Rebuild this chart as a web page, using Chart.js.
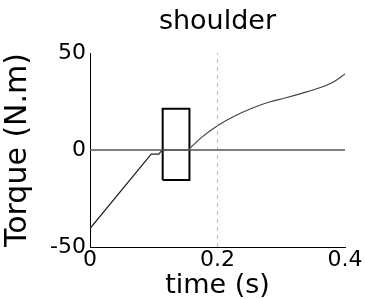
<!DOCTYPE html>
<html><head><meta charset="utf-8">
<script src="https://cdn.jsdelivr.net/npm/chart.js@4"></script>
<style>html,body{margin:0;padding:0;background:#fff}#wrap{width:365px;height:299px}</style>
</head><body><div id="wrap"><canvas id="c" width="365" height="299"></canvas></div>
<script>
// Torque curve, ramp part
const rampTime   = [0, 0.096, 0.108, 0.113, 0.154];
const rampTorque = [-40.5, -2.1, -2.1, 0, 0];
// Torque curve, smooth rise part
const riseTime   = [0.154, 0.175, 0.2, 0.227, 0.254, 0.28, 0.306, 0.332, 0.358, 0.382, 0.4];
const riseTorque = [0, 6.5, 12.5, 17.5, 21.5, 24.6, 26.8, 29.2, 31.8, 35.1, 39.2];
// Zero reference line
const zeroTime = [0, 0.4];
const zeroTorque = [0, 0];
// Dashed vertical marker
const markerTime = [0.2, 0.2];
const markerTorque = [-50, 50];
// Rectangle outline
const boxTime = [0.114, 0.114, 0.156, 0.156, 0.114];
const boxTorque = [-15.5, 21.3, 21.3, -15.5, -15.5];
// Ticks
const xTicks = [0, 0.2, 0.4];
const xTickLabels = ['0', '0.2', '0.4'];
const yTicks = [-50, 0, 50];
const yTickLabels = ['-50', '0', '50'];

const toPts = (xs, ys) => xs.map((x, i) => ({x: x, y: ys[i]}));
Chart.defaults.font.family = 'DejaVu Sans';
Chart.defaults.color = '#000';

new Chart(document.getElementById('c'), {
  type: 'scatter',
  data: {
    datasets: [
      {data: toPts(zeroTime, zeroTorque), showLine: true, borderColor: '#555', borderWidth: 1.5, pointRadius: 0, tension: 0},
      {data: toPts(markerTime, markerTorque), showLine: true, borderColor: '#bbb', borderWidth: 1, borderDash: [4, 4], pointRadius: 0, tension: 0},
      {data: toPts(rampTime, rampTorque), showLine: true, borderColor: '#222', borderWidth: 1.2, pointRadius: 0, tension: 0},
      {data: toPts(riseTime, riseTorque), showLine: true, borderColor: '#444', borderWidth: 1.2, pointRadius: 0, cubicInterpolationMode: 'monotone'},
      {data: toPts(boxTime, boxTorque), showLine: true, borderColor: '#000', borderWidth: 2, pointRadius: 0, tension: 0}
    ]
  },
  options: {
    responsive: false,
    animation: false,
    events: [],
    layout: {padding: {top: 0, left: 0, right: 20, bottom: 0}},
    plugins: {
      legend: {display: false},
      tooltip: {enabled: false},
      title: {display: true, text: 'shoulder', fullSize: false, color: '#000',
        font: {size: 27, weight: 'normal', lineHeight: 1.2}, padding: {top: 6, bottom: 14.6}}
    },
    scales: {
      x: {
        type: 'linear', min: 0, max: 0.4,
        grid: {display: false, drawTicks: false},
        border: {display: true, color: '#000', width: 1},
        afterBuildTicks: s => { s.ticks = xTicks.map(v => ({value: v})); },
        afterFit: s => { s.height = 52; },
        ticks: {autoSkip: false, maxRotation: 0, padding: 0, font: {size: 22},
          callback: v => xTickLabels[xTicks.indexOf(v)]},
        title: {display: true, text: 'time (s)', font: {size: 27, lineHeight: 1}, padding: {top: 0, bottom: 0}}
      },
      y: {
        type: 'linear', min: -50, max: 50,
        grid: {display: false, drawTicks: false},
        border: {display: true, color: '#000', width: 1},
        afterBuildTicks: s => { s.ticks = yTicks.map(v => ({value: v})); },
        afterFit: s => { s.width = 90; },
        ticks: {autoSkip: false, padding: 4, font: {size: 22},
          callback: v => yTickLabels[yTicks.indexOf(v)]},
        title: {display: true, text: 'Torque (N.m)', font: {size: 30, lineHeight: 1}, padding: {top: 3.5, bottom: 0}}
      }
    }
  }
});
</script></body></html>
